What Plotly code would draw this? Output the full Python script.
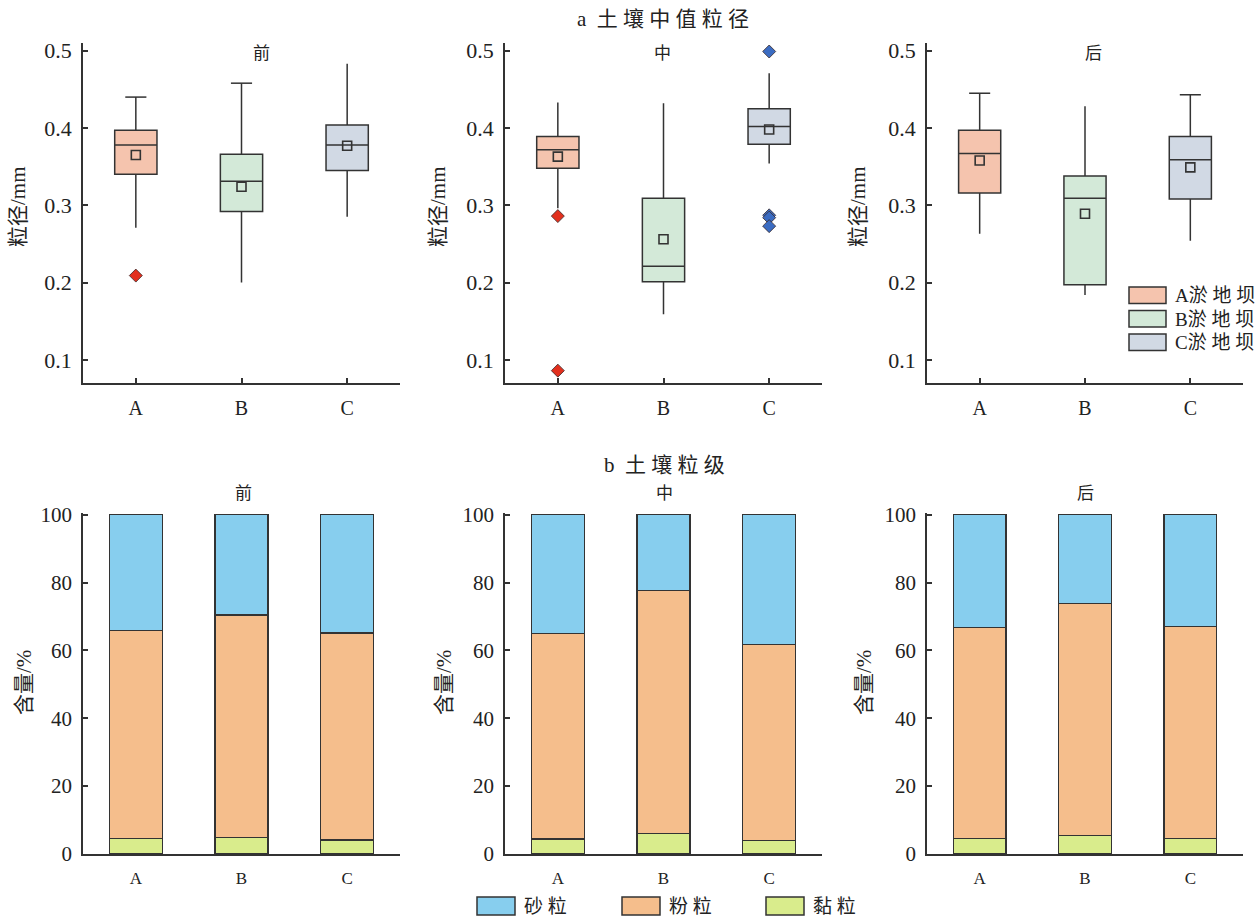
import plotly.graph_objects as go

W, H = 1258, 919

stages = ["前", "中", "后"]
dams = ["A", "B", "C"]
dam_names = ["A淤地坝", "B淤地坝", "C淤地坝"]

# median grain size statistics (mm), [stage][dam]
upper = [[0.440, 0.458, 0.483], [0.433, 0.432, 0.471], [0.445, 0.428, 0.443]]
q3 = [[0.397, 0.366, 0.404], [0.389, 0.309, 0.425], [0.397, 0.338, 0.389]]
median = [[0.378, 0.331, 0.378], [0.372, 0.221, 0.402], [0.367, 0.309, 0.359]]
mean = [[0.365, 0.324, 0.377], [0.363, 0.256, 0.398], [0.358, 0.289, 0.349]]
q1 = [[0.340, 0.292, 0.345], [0.348, 0.201, 0.379], [0.316, 0.197, 0.308]]
lower = [[0.271, 0.200, 0.285], [0.296, 0.159, 0.354], [0.263, 0.184, 0.254]]
outliers = [
    [[0.209], [], []],
    [[0.286, 0.086], [], [0.499, 0.287, 0.284, 0.273]],
    [[], [], []],
]
capped = [[True, True, False], [False, False, False], [True, False, True]]

# particle size fractions (%), [stage][dam]
clay = [[4.5, 4.9, 4.1], [4.4, 6.0, 4.0], [4.6, 5.4, 4.6]]
silt = [[61.4, 65.5, 61.0], [60.6, 71.6, 57.7], [62.2, 68.4, 62.5]]
sand = [[34.1, 29.6, 34.9], [35.0, 22.4, 38.3], [33.2, 26.2, 32.9]]
fraction_names = ["砂粒", "粉粒", "黏粒"]

box_fill = ["#f5c4ae", "#d3e9d8", "#d1d9e4"]
outlier_color = ["#e2301e", "#4a8a5a", "#3b6cc2"]
frac_color = {"砂粒": "#87ceee", "粉粒": "#f5be8c", "黏粒": "#d9ec8c"}
EDGE = "#333333"
TEXT = "#222222"
FONT = "Liberation Serif, 'Noto Sans CJK SC', serif"


def px(x):
    return x / W


def py(y):
    return 1 - y / H


# subplot frames (pixel positions on the page)
col_x = [(83, 400), (505, 822), (927, 1243)]
top_y = (43, 383)
bot_y = (513, 854)

fig = go.Figure()

for i in range(3):
    xa = "x" if i == 0 else f"x{i + 1}"
    ya = "y" if i == 0 else f"y{i + 1}"
    for j in range(3):
        fig.add_trace(go.Box(
            x=[j], q1=[q1[i][j]], median=[median[i][j]], q3=[q3[i][j]],
            lowerfence=[lower[i][j]], upperfence=[upper[i][j]],
            width=0.4, whiskerwidth=0, boxpoints=False,
            fillcolor=box_fill[j], line=dict(color=EDGE, width=1.5),
            xaxis=xa, yaxis=ya, showlegend=False, name=dam_names[j],
        ))
        if capped[i][j]:
            fig.add_trace(go.Scatter(
                x=[j - 0.1, j + 0.1], y=[upper[i][j], upper[i][j]],
                mode="lines", line=dict(color=EDGE, width=1.5),
                xaxis=xa, yaxis=ya, showlegend=False, hoverinfo="skip",
            ))
        fig.add_trace(go.Scatter(
            x=[j], y=[mean[i][j]], mode="markers",
            marker=dict(symbol="square-open", size=9, color=EDGE,
                        line=dict(width=1.6, color=EDGE)),
            xaxis=xa, yaxis=ya, showlegend=False,
        ))
        if outliers[i][j]:
            fig.add_trace(go.Scatter(
                x=[j] * len(outliers[i][j]), y=outliers[i][j], mode="markers",
                marker=dict(symbol="diamond", size=10, color=outlier_color[j],
                            line=dict(width=0.8, color="#3a2a2a")),
                xaxis=xa, yaxis=ya, showlegend=False,
            ))

for i in range(3):
    xa = f"x{i + 4}"
    ya = f"y{i + 4}"
    for name, vals in (("黏粒", clay[i]), ("粉粒", silt[i]), ("砂粒", sand[i])):
        fig.add_trace(go.Bar(
            x=[0, 1, 2], y=vals, width=0.5, name=name,
            marker=dict(color=frac_color[name], line=dict(color=EDGE, width=1.4)),
            xaxis=xa, yaxis=ya, showlegend=False,
        ))

layout = dict(
    width=W, height=H, margin=dict(l=0, r=0, t=0, b=0, autoexpand=False),
    paper_bgcolor="white", plot_bgcolor="white", showlegend=False,
    barmode="stack", boxmode="overlay",
    font=dict(family=FONT, color=TEXT),
)

for k in range(6):
    row_top = k < 3
    c = k % 3
    xs = "xaxis" if k == 0 else f"xaxis{k + 1}"
    ys = "yaxis" if k == 0 else f"yaxis{k + 1}"
    yid = "y" if k == 0 else f"y{k + 1}"
    xid = "x" if k == 0 else f"x{k + 1}"
    yr = top_y if row_top else bot_y
    layout[xs] = dict(
        domain=[px(col_x[c][0]), px(col_x[c][1])], anchor=yid, automargin=False,
        range=[-0.5, 2.5], tickvals=[0, 1, 2], ticktext=dams,
        showline=True, linecolor=EDGE, linewidth=1.5, showgrid=False, zeroline=False,
        ticks="inside" if row_top else "", ticklen=5, tickwidth=1.5, tickcolor=EDGE,
        tickfont=dict(size=20 if row_top else 17, family=FONT, color=TEXT),
        ticklabelstandoff=6 if row_top else 8,
    )
    if row_top:
        yax = dict(range=[0.07, 0.51], tickvals=[0.1, 0.2, 0.3, 0.4, 0.5],
                   ticktext=["0.1", "0.2", "0.3", "0.4", "0.5"])
    else:
        yax = dict(range=[0, 100.5], tickvals=[0, 20, 40, 60, 80, 100])
    yax.update(
        domain=[py(yr[1]), py(yr[0])], anchor=xid, automargin=False,
        showline=True, linecolor=EDGE, linewidth=1.5, showgrid=False, zeroline=False,
        ticks="inside", ticklen=5, tickwidth=1.5, tickcolor=EDGE,
        tickfont=dict(size=22 if row_top else 21, family=FONT, color=TEXT),
        ticklabelstandoff=5,
    )
    layout[ys] = yax

fig.update_layout(**layout)

ann = []
# row titles
ann.append(dict(text="a  土 壤 中 值 粒 径", x=px(663), y=py(19), size=21))
ann.append(dict(text="b  土 壤 粒 级", x=px(665), y=py(465), size=21))
# stage labels
for c, (tx, bx) in enumerate(zip([261, 663, 1093], [243, 665, 1085])):
    ann.append(dict(text=stages[c], x=px(tx), y=py(53), size=17))
    ann.append(dict(text=stages[c], x=px(bx), y=py(493), size=17))
# y axis titles
for c, (tx, bx) in enumerate(zip([18, 438, 858], [24, 444, 864])):
    ann.append(dict(text="粒径/mm", x=px(tx), y=py(207), size=21, angle=-90))
    ann.append(dict(text="含量/%", x=px(bx), y=py(683), size=21, angle=-90))

annotations = []
for a in ann:
    annotations.append(dict(
        text=a["text"], x=a["x"], y=a["y"], xref="paper", yref="paper",
        xanchor="center", yanchor="middle", showarrow=False,
        textangle=a.get("angle", 0),
        font=dict(size=a.get("size", 20), family=FONT, color=TEXT),
    ))

shapes = []
# box legend inside the last top panel
for j, name in enumerate(dam_names):
    y0 = 287 + j * 23.5
    shapes.append(dict(type="rect", xref="paper", yref="paper",
                       x0=px(1129), x1=px(1166), y0=py(y0 + 16.5), y1=py(y0),
                       fillcolor=box_fill[j], line=dict(color=EDGE, width=1.5)))
    annotations.append(dict(
        text=name[0] + " ".join(name[1:]), x=px(1173), y=py(y0 + 8.5),
        xref="paper", yref="paper", xanchor="left", yanchor="middle",
        showarrow=False, font=dict(size=19, family=FONT, color=TEXT),
    ))
# fraction legend below the bottom row
for k, (sx, tx) in enumerate(zip([477, 622, 766], [522, 667, 811])):
    name = fraction_names[k]
    shapes.append(dict(type="rect", xref="paper", yref="paper",
                       x0=px(sx), x1=px(sx + 38), y0=py(915), y1=py(897),
                       fillcolor=frac_color[name], line=dict(color=EDGE, width=1.5)))
    annotations.append(dict(
        text=" ".join(name), x=px(tx), y=py(906),
        xref="paper", yref="paper", xanchor="left", yanchor="middle",
        showarrow=False, font=dict(size=19, family=FONT, color=TEXT),
    ))

fig.update_layout(annotations=annotations, shapes=shapes)

fig.write_html("out.html")
